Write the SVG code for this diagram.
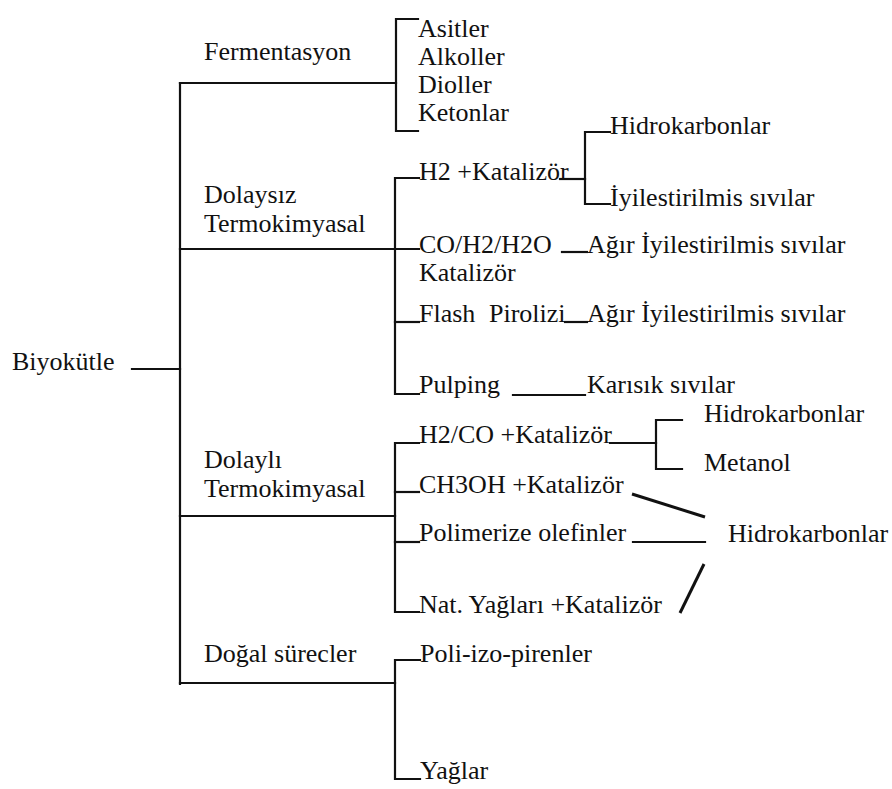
<svg xmlns="http://www.w3.org/2000/svg" width="892" height="789" viewBox="0 0 892 789">
<style>
  text { font-family: 'Liberation Serif', 'DejaVu Serif', serif; font-size: 26px; fill: #111; }
  .c { fill: none; stroke: #111; stroke-width: 2.2; stroke-linecap: square; }
  .d { fill: none; stroke: #111; stroke-width: 3; stroke-linecap: butt; }
</style>
<rect width="892" height="789" fill="#fff"/>
<g id="connectors">
  <path class="c" d="M132 369 H180"/>
  <path class="c" d="M180 83 V684"/>
  <path class="c" d="M180 83 H396"/>
  <path class="c" d="M418 19 H396 V131 H418"/>
  <path class="c" d="M180 249 H419"/>
  <path class="c" d="M419 178 H395 V394 H419"/>
  <path class="c" d="M395 322 H419"/>
  <path class="c" d="M560 179 H585"/>
  <path class="c" d="M610 132 H585 V204 H610"/>
  <path class="c" d="M562 252 H587"/>
  <path class="c" d="M565 322 H587"/>
  <path class="c" d="M513 395 H585"/>
  <path class="c" d="M180 516 H395"/>
  <path class="c" d="M419 443 H395 V612 H419"/>
  <path class="c" d="M395 492 H419"/>
  <path class="c" d="M395 542 H419"/>
  <path class="c" d="M610 443 H656"/>
  <path class="c" d="M682 420 H656 V469 H682"/>
  <path class="d" d="M632 494 L705 517"/>
  <path class="c" d="M633 542 H705"/>
  <path class="d" d="M704 564 L680 613"/>
  <path class="c" d="M180 683 H395"/>
  <path class="c" d="M420 660 H395 V779 H420"/>
</g>
<g font-family="Liberation Serif, serif">
<g id="biyokutle"><text x="12" y="370">Biyokütle</text></g>
<g id="fermentasyon"><text x="204" y="60">Fermentasyon</text></g>
<g id="asitler"><text x="418" y="37">Asitler</text></g>
<g id="alkoller"><text x="418" y="65">Alkoller</text></g>
<g id="dioller"><text x="418" y="93">Dioller</text></g>
<g id="ketonlar"><text x="418" y="121">Ketonlar</text></g>
<g id="dolaysiz"><text x="204" y="203">Dolaysız</text><text x="204" y="232">Termokimyasal</text></g>
<g id="h2-katalizor"><text x="419" y="180">H2 +Katalizör</text></g>
<g id="hidrokarbonlar-1"><text x="610" y="134">Hidrokarbonlar</text></g>
<g id="iyilestirilmis"><text x="610" y="206">İyilestirilmis sıvılar</text></g>
<g id="co-h2-h2o"><text x="419" y="253">CO/H2/H2O</text><text x="419" y="281">Katalizör</text></g>
<g id="agir-1"><text x="587" y="253">Ağır İyilestirilmis sıvılar</text></g>
<g id="flash"><text x="419" y="322">Flash<tspan x="489">Pirolizi</tspan></text></g>
<g id="agir-2"><text x="587" y="322">Ağır İyilestirilmis sıvılar</text></g>
<g id="pulping"><text x="419" y="393">Pulping</text></g>
<g id="karisik"><text x="587" y="393">Karısık sıvılar</text></g>
<g id="dolayli"><text x="204" y="468">Dolaylı</text><text x="204" y="497">Termokimyasal</text></g>
<g id="h2co-katalizor"><text x="419" y="443">H2/CO +Katalizör</text></g>
<g id="hidrokarbonlar-2"><text x="704" y="422">Hidrokarbonlar</text></g>
<g id="metanol"><text x="704" y="471">Metanol</text></g>
<g id="ch3oh"><text x="419" y="493">CH3OH +Katalizör</text></g>
<g id="polimerize"><text x="419" y="541">Polimerize olefinler</text></g>
<g id="hidrokarbonlar-3"><text x="728" y="542">Hidrokarbonlar</text></g>
<g id="nat-yaglari"><text x="419" y="613">Nat. Yağları +Katalizör</text></g>
<g id="dogal"><text x="204" y="662">Doğal sürecler</text></g>
<g id="poli-izo"><text x="420" y="662">Poli-izo-pirenler</text></g>
<g id="yaglar"><text x="420" y="779">Yağlar</text></g>
</g>
</svg>
